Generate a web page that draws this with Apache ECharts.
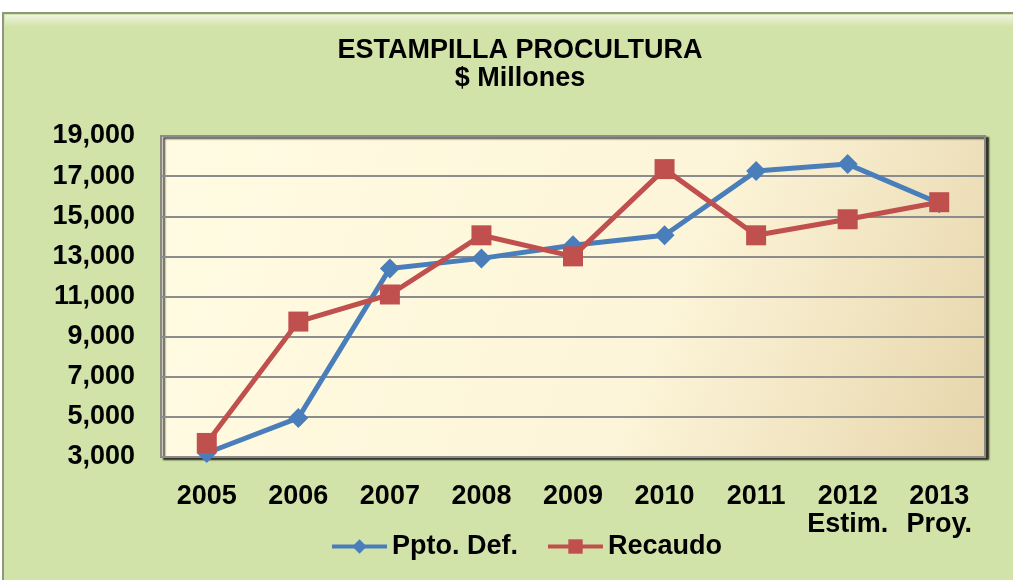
<!DOCTYPE html>
<html>
<head>
<meta charset="utf-8">
<script src="https://cdn.jsdelivr.net/npm/echarts@6/dist/echarts.min.js"></script>
<style>
html,body{margin:0;padding:0;background:#ffffff;}
#c{width:1013px;height:580px;}
</style>
</head>
<body>
<div id="c"></div>
<script>
const categories = ['2005','2006','2007','2008','2009','2010','2011','2012\nEstim.','2013\nProy.'];
const pptoDef = [3200, 4950, 12400, 12900, 13550, 14050, 17250, 17600, 15650];
const recaudo = [3700, 9750, 11100, 14050, 13000, 17350, 14050, 14850, 15700];
const seriesNames = ['Ppto. Def.', 'Recaudo'];
const titleText = 'ESTAMPILLA PROCULTURA\n$ Millones';

const FONT = "'Liberation Sans', Arial, sans-serif";
const chart = echarts.init(document.getElementById('c'), null, {renderer:'canvas'});
chart.setOption({
  backgroundColor: '#ffffff',
  animation: false,
  graphic: [
    {type:'rect', z:-10, silent:true,
     shape:{x:3, y:13, width:1020, height:575},
     style:{fill:'#d2e3a9', stroke:'#8e9580', lineWidth:2}},
    {type:'rect', z:-9, silent:true,
     shape:{x:5, y:15, width:1020, height:12},
     style:{fill:new echarts.graphic.LinearGradient(0,0,0,1,[{offset:0,color:'rgba(255,255,255,0.6)'},{offset:1,color:'rgba(255,255,255,0)'}])}}
  ],
  title: {
    text: titleText,
    left: 515,
    textAlign: 'center',
    top: 32,
    textStyle: {fontFamily: FONT, fontWeight: 'bold', fontSize: 27, lineHeight: 28, color: '#000'}
  },
  legend: {
    data: seriesNames,
    bottom: 15,
    left: 325,
    itemWidth: 55,
    itemHeight: 18,
    itemGap: 28,
    lineStyle: {width: 4},
    textStyle: {fontFamily: FONT, fontWeight: 'bold', fontSize: 27, color: '#000'}
  },
  grid: {
    left: 161, right: 28, top: 136, bottom: 123,
    show: true,
    backgroundColor: new echarts.graphic.LinearGradient(0,0,1,1,[
      {offset:0, color:'#fffbe2'},
      {offset:0.6, color:'#fdf5d9'},
      {offset:1, color:'#e6d5ab'}
    ]),
    borderColor: '#8a8a84',
    borderWidth: 2,
    shadowColor: 'rgba(0,0,0,0.75)',
    shadowBlur: 2,
    shadowOffsetX: 3,
    shadowOffsetY: 2
  },
  xAxis: {
    type: 'category',
    data: categories,
    boundaryGap: true,
    axisLine: {show: false},
    axisTick: {show: false},
    axisLabel: {
      margin: 26,
      interval: 0,
      fontFamily: FONT, fontWeight: 'bold', fontSize: 27, lineHeight: 28, color: '#000'
    }
  },
  yAxis: {
    type: 'value',
    min: 3000, max: 19000, interval: 2000,
    axisLine: {show: false},
    axisTick: {show: false},
    splitLine: {lineStyle: {color: '#8c8c8c', width: 2}},
    axisLabel: {
      margin: 26,
      fontFamily: FONT, fontWeight: 'bold', fontSize: 27, color: '#000',
      formatter: v => v.toLocaleString('en-US')
    }
  },
  series: [
    {
      name: seriesNames[0], type: 'line', data: pptoDef,
      symbol: 'diamond', symbolSize: 20,
      lineStyle: {color: '#4a7ebb', width: 5},
      itemStyle: {color: '#4a7ebb'},
      z: 2
    },
    {
      name: seriesNames[1], type: 'line', data: recaudo,
      symbol: 'rect', symbolSize: 20,
      lineStyle: {color: '#c0504d', width: 5},
      itemStyle: {color: '#c0504d'},
      z: 3
    }
  ]
});
</script>
</body>
</html>
